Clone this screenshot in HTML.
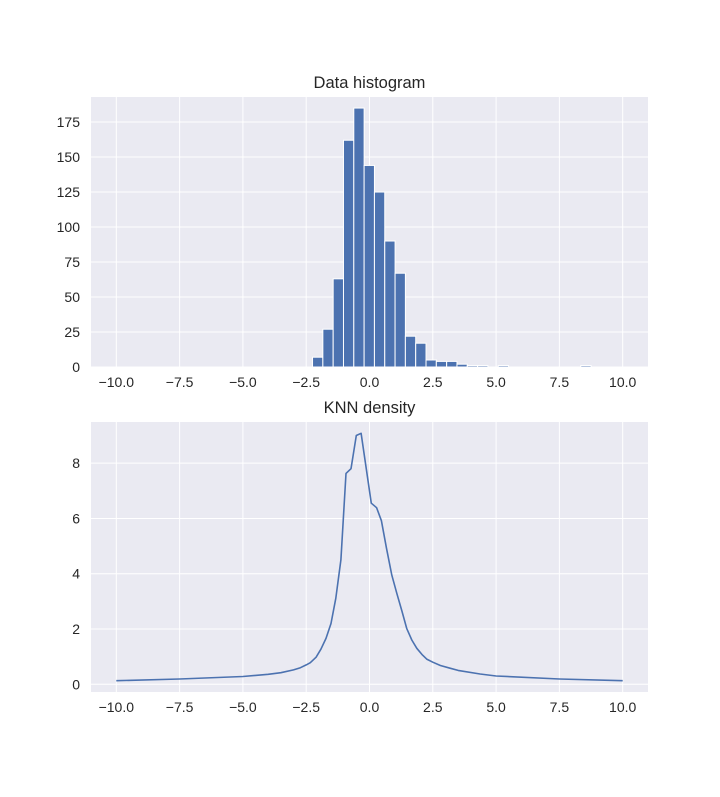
<!DOCTYPE html>
<html><head><meta charset="utf-8"><style>
body{margin:0;background:#fff;}
svg text{font-family:"Liberation Sans","DejaVu Sans",sans-serif;fill:#262626;}
</style></head><body>
<svg id="fig" width="720" height="792" xmlns="http://www.w3.org/2000/svg"></svg>
<script>
// Histogram data (bin left edges in data units, counts)
const histStart = -2.25;
const histBinWidth = 0.4075;
const histCounts = [7,27,63,162,185,144,125,90,67,22,17,5,4,4,2,1,1,0,1,0,0,0,0,0,0,0,1];
const histYTicks = [0,25,50,75,100,125,150,175];
const xTicks = [-10,-7.5,-5,-2.5,0,2.5,5,7.5,10];
const xTickLabels = ["−10.0","−7.5","−5.0","−2.5","0.0","2.5","5.0","7.5","10.0"];
// KNN density curve
const knnX = [-10,-7.5,-5,-4,-3.5,-3,-2.73,-2.5,-2.34,-2.11,-1.92,-1.72,-1.52,-1.33,-1.13,-0.93,-0.73,-0.52,-0.33,0.07,0.28,0.47,0.67,0.88,1.08,1.28,1.47,1.67,1.87,2.07,2.26,2.5,2.8,3.18,3.5,4.37,5,7.5,10];
const knnY = [0.13,0.19,0.28,0.36,0.42,0.52,0.6,0.7,0.78,0.98,1.27,1.66,2.2,3.11,4.5,7.63,7.8,9.0,9.08,6.55,6.39,5.92,4.92,3.95,3.29,2.65,2.02,1.6,1.3,1.08,0.91,0.8,0.68,0.58,0.5,0.37,0.3,0.19,0.13];
const knnYTicks = [0,2,4,6,8];

const svg = document.getElementById('fig');
const NS = 'http://www.w3.org/2000/svg';
function mk(tag, attrs, parent){const e=document.createElementNS(NS,tag);for(const k in attrs)e.setAttribute(k,attrs[k]);(parent||svg).appendChild(e);return e;}

function axes(name, top, bottom, yMin, yMax, yTicks, title){
  const L=91,R=648;
  const g=mk('g',{});
  
  
  const bg=mk('rect',{x:L,y:top,width:R-L,height:bottom-top,fill:'#eaeaf2'},g);
  
  
  const sx=v=>L+(v+11)/22*(R-L);
  const sy=v=>bottom-(v-yMin)/(yMax-yMin)*(bottom-top);
  xTicks.forEach((t,i)=>{
    mk('line',{x1:sx(t),x2:sx(t),y1:top,y2:bottom,stroke:'#fff','stroke-width':1},g);
    const tx=mk('text',{x:sx(t),y:bottom+20,'text-anchor':'middle','font-size':14},g);
    tx.textContent=xTickLabels[i];
    
    
  });
  yTicks.forEach(t=>{
    mk('line',{x1:L,x2:R,y1:sy(t),y2:sy(t),stroke:'#fff','stroke-width':1},g);
    const tx=mk('text',{x:80,y:sy(t)+5,'text-anchor':'end','font-size':14},g);
    tx.textContent=String(t);
    
    
  });
  const ti=mk('text',{x:(L+R)/2,y:top-9,'text-anchor':'middle','font-size':16.5},g);
  ti.textContent=title;
  
  
  return {sx,sy,g};
}

const a1=axes('histogram-axes',97,367,0,192.9,histYTicks,'Data histogram');
histCounts.forEach((c,i)=>{
  if(c<=0)return;
  const x0=a1.sx(histStart+i*histBinWidth), x1=a1.sx(histStart+(i+1)*histBinWidth);
  const r=mk('rect',{x:x0,y:a1.sy(c),width:x1-x0,height:a1.sy(0)-a1.sy(c),fill:'#4c72b0',stroke:'#fff','stroke-width':1},a1.g);
  
  
});

const a2=axes('knn-axes',422,692,-0.28,9.49,knnYTicks,'KNN density');
const pts=knnX.map((x,i)=>a2.sx(x).toFixed(1)+','+a2.sy(knnY[i]).toFixed(1)).join(' ');
const pl=mk('polyline',{points:pts,fill:'none',stroke:'#4c72b0','stroke-width':1.6,'stroke-linejoin':'round'},a2.g);


</script>
</body></html>
